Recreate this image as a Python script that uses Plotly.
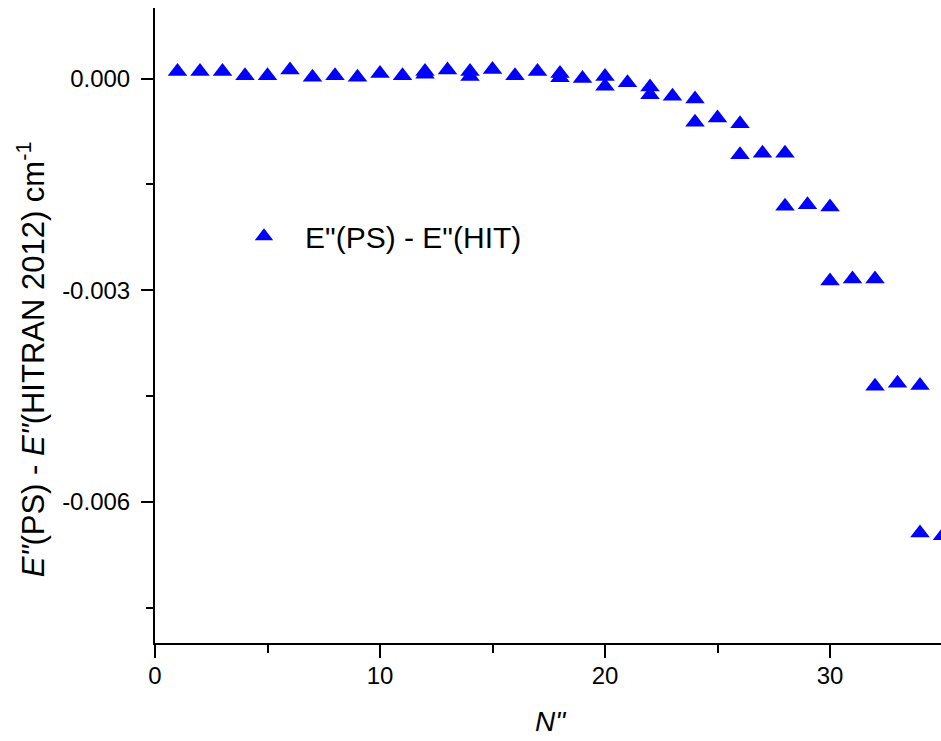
import plotly.graph_objects as go

# Data
N = [1, 2, 3, 4, 5, 6, 7, 8, 9, 10, 11, 12, 12, 13, 14, 14, 15, 16, 17, 18, 18,
     19, 20, 20, 21, 22, 22, 23, 24, 24, 25, 26, 26, 27, 28, 28, 29, 30, 30,
     31, 32, 32, 33, 34, 34, 35]
dE = [0.00010, 0.00010, 0.00010, 0.00004, 0.00004, 0.00012, 0.00002, 0.00004,
      0.00002, 0.00007, 0.00004, 0.00010, 0.00006, 0.00012, 0.00010, 0.00003,
      0.00013, 0.00004, 0.00010, 0.00007, 0.00001, 0.00000, 0.00003, -0.00011,
      -0.00006, -0.00012, -0.00023, -0.00025, -0.00029, -0.00062, -0.00056,
      -0.00064, -0.00108, -0.00106, -0.00106, -0.00181, -0.00179, -0.00182,
      -0.00287, -0.00284, -0.00284, -0.00436, -0.00432, -0.00435, -0.00644,
      -0.00648]

series_name = 'E"(PS) - E"(HIT)'
y_tickvals = [0.0, -0.003, -0.006]
y_ticktext = ["0.000", "-0.003", "-0.006"]
x_tickvals = [0, 10, 20, 30]
x_ticktext = ["0", "10", "20", "30"]

FONT = "Liberation Sans, Arial, sans-serif"

# The plot continues past the right edge of the window (as in the reference)
FIG_W = 960
PLOT_W = FIG_W - 155
X_MAX = PLOT_W / 22.5

fig = go.Figure()
fig.add_trace(go.Scatter(
    x=N, y=dE, mode="markers", name=series_name,
    marker=dict(symbol="triangle-up", size=17, color="#0000FF",
                line=dict(width=0)),
    cliponaxis=False,
))

fig.update_layout(
    width=FIG_W, height=741, autosize=False,
    margin=dict(l=155, r=0, t=8, b=98, pad=0),
    paper_bgcolor="white", plot_bgcolor="white",
    font=dict(family=FONT, size=24, color="black"),
    showlegend=True,
    legend=dict(x=(223 - 155) / PLOT_W, y=(642.7 - 236) / 635, xanchor="left",
                yanchor="middle", bgcolor="rgba(0,0,0,0)",
                font=dict(family=FONT, size=30, color="black"),
                itemwidth=72),
    xaxis=dict(range=[0, X_MAX], tickvals=x_tickvals, ticktext=x_ticktext,
               showgrid=False, zeroline=False, showline=True, linewidth=2,
               linecolor="black", ticks="outside", ticklen=13, tickwidth=2,
               tickcolor="black", ticklabelstandoff=-3,
               tickfont=dict(family=FONT, size=24),
               minor=dict(dtick=5, tick0=0, ticks="outside", ticklen=8,
                          tickwidth=2, tickcolor="black", showgrid=False)),
    yaxis=dict(range=[-0.008, 0.001], tickvals=y_tickvals, ticktext=y_ticktext,
               showgrid=False, zeroline=False, showline=True, linewidth=2,
               linecolor="black", ticks="outside", ticklen=12, tickwidth=2,
               tickcolor="black", ticklabelstandoff=6,
               tickfont=dict(family=FONT, size=24),
               minor=dict(tickvals=[-0.0075, -0.0045, -0.0015], ticks="outside",
                          ticklen=7, tickwidth=2, tickcolor="black",
                          showgrid=False)),
)

fig.add_annotation(
    text='<i>N"</i>', xref="paper", yref="paper",
    x=(550 - 155) / PLOT_W, y=-(721 - 642.7) / 635, xanchor="center",
    yanchor="middle", showarrow=False,
    font=dict(family=FONT, size=28, color="black"),
)

fig.add_annotation(
    text='<i>E"</i>(PS) - <i>E"</i>(HITRAN 2012) cm<sup>-1</sup>',
    textangle=-90, xref="paper", yref="paper",
    x=(31 - 155) / PLOT_W, y=(642.7 - 359) / 635, xanchor="center",
    yanchor="middle", showarrow=False,
    font=dict(family=FONT, size=31, color="black"),
)

fig.write_html("out.html", config={"displayModeBar": False},
               post_script="document.body.style.margin='0px';"
                           "document.body.style.overflow='hidden';"
                           "document.documentElement.style.overflow='hidden';")
